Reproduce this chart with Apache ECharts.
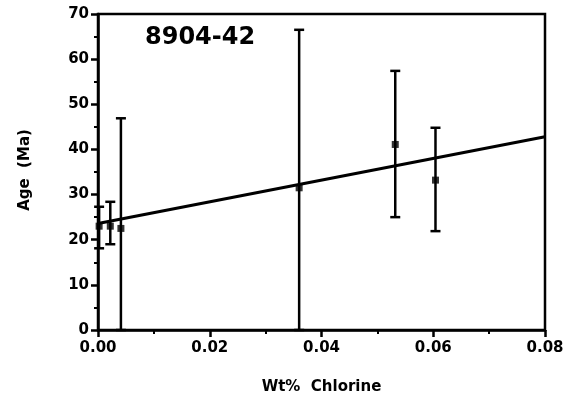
<!DOCTYPE html>
<html>
<head>
<meta charset="utf-8">
<script src="https://cdn.jsdelivr.net/npm/echarts@6/dist/echarts.min.js"></script>
<style>html,body{margin:0;padding:0;background:#fff;}#c{width:572px;height:401px;}</style>
</head>
<body>
<div id="c"></div>
<script>
// Data
var chlorine = [0.0002, 0.0022, 0.0041, 0.0360, 0.0532, 0.0604];
var age      = [23.0, 23.0, 22.5, 31.5, 41.1, 33.2];
var ageLow   = [18.1, 19.0, 0.0, 0.0, 25.0, 21.9];
var ageHigh  = [27.3, 28.4, 46.9, 66.5, 57.4, 44.8];
var fitX = [0.0, 0.08];
var fitY = [23.6, 42.8];
var sampleName = '8904-42';

var font = 'DejaVu Sans, sans-serif';
var chart = echarts.init(document.getElementById('c'));

var errData = chlorine.map(function (x, i) { return [x, ageLow[i], ageHigh[i]]; });
var ptData = chlorine.map(function (x, i) { return [x, age[i]]; });
var fitData = fitX.map(function (x, i) { return [x, fitY[i]]; });

chart.setOption({
  animation: false,
  backgroundColor: '#fff',
  grid: { left: 98, right: 27, top: 14, bottom: 71, show: true, borderColor: '#000', borderWidth: 2.5, backgroundColor: 'transparent' },
  xAxis: {
    type: 'value', min: 0, max: 0.08, interval: 0.02,
    name: 'Wt%  Chlorine', nameLocation: 'middle', nameGap: 50,
    nameTextStyle: { fontFamily: font, fontWeight: 'bold', fontSize: 15, color: '#000' },
    axisLine: { show: true, onZero: false, lineStyle: { color: '#000', width: 2.5 } },
    axisTick: { show: true, length: 7, lineStyle: { color: '#000', width: 2.5 } },
    minorTick: { show: true, splitNumber: 2, length: 4, lineStyle: { color: '#000', width: 2 } },
    splitLine: { show: false },
    axisLabel: { fontFamily: font, fontWeight: 'bold', fontSize: 15, color: '#000', margin: 11,
      formatter: function (v) { return v.toFixed(2); } }
  },
  yAxis: {
    type: 'value', min: 0, max: 70, interval: 10,
    axisLine: { show: true, onZero: false, lineStyle: { color: '#000', width: 2.5 } },
    axisTick: { show: true, length: 7, lineStyle: { color: '#000', width: 2.5 } },
    minorTick: { show: true, splitNumber: 2, length: 4, lineStyle: { color: '#000', width: 2 } },
    splitLine: { show: false },
    axisLabel: { fontFamily: font, fontWeight: 'bold', fontSize: 15, color: '#000', margin: 9 }
  },
  graphic: [
    { type: 'text', left: 145, top: 26, style: { text: sampleName, fontFamily: font, fontWeight: 'bold', fontSize: 24, fill: '#000' } },
    { type: 'text', x: 25, y: 170, rotation: Math.PI / 2,
      style: { text: 'Age  (Ma)', fontFamily: font, fontWeight: 'bold', fontSize: 15, fill: '#000', align: 'center', verticalAlign: 'middle' } }
  ],
  series: [
    {
      type: 'line', data: fitData, symbol: 'none', lineStyle: { color: '#000', width: 3 }, z: 3
    },
    {
      type: 'custom', data: errData, z: 4,
      renderItem: function (params, api) {
        var x = api.value(0);
        var lo = api.coord([x, api.value(1)]);
        var hi = api.coord([x, api.value(2)]);
        var hw = 5;
        var st = { stroke: '#000', lineWidth: 2.5 };
        return { type: 'group', children: [
          { type: 'line', shape: { x1: lo[0], y1: lo[1], x2: hi[0], y2: hi[1] }, style: st },
          { type: 'line', shape: { x1: hi[0] - hw, y1: hi[1], x2: hi[0] + hw, y2: hi[1] }, style: st },
          { type: 'line', shape: { x1: lo[0] - hw, y1: lo[1], x2: lo[0] + hw, y2: lo[1] }, style: st }
        ] };
      }
    },
    {
      type: 'scatter', data: ptData, symbol: 'rect', symbolSize: 7, itemStyle: { color: '#000' }, z: 5
    }
  ]
});
</script>
</body>
</html>
